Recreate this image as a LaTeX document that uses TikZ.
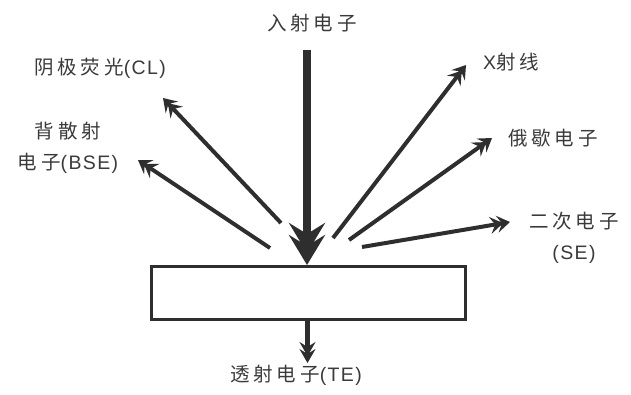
\documentclass[tikz,border=0pt]{standalone}
\usepackage{fontspec}
\setmainfont{Liberation Sans}
\newfontfamily\cjk[LetterSpace=20]{Noto Sans CJK SC}
\newfontfamily\lat[LetterSpace=7]{Liberation Sans}
\usetikzlibrary{arrows.meta}
\definecolor{ink}{HTML}{2E2E2E}
\definecolor{txt}{HTML}{3A3A3A}
\begin{document}
\begin{tikzpicture}[x=1pt,y=-1pt,
  lbl/.style={font=\fontsize{19.5}{31}\selectfont\cjk, text=txt, inner sep=0pt, align=center},
  sbox/.style={draw=ink, line width=3.3pt, minimum width=313.7pt, minimum height=52.7pt, inner sep=0pt},
  ray/.style={draw=ink, line width=4pt,
    -{Stealth[length=13pt,width=17pt,inset=5pt,sep=-6pt]Stealth[length=13pt,width=17pt,inset=5pt]}},
  beam/.style={draw=ink, line width=8pt,
    -{Stealth[length=30pt,width=36pt,inset=11pt,sep=-18pt]Stealth[length=30pt,width=36pt,inset=11pt]}},
  trans/.style={draw=ink, line width=4.5pt,
    -{Stealth[length=14pt,width=16pt,inset=5pt,sep=-7pt]Stealth[length=14pt,width=16pt,inset=5pt]}},
]
\useasboundingbox (0,0) rectangle (631,394);

% sample
\node[sbox] (sample) at (308.5,293) {};

% labels
\node[lbl] (in)  at (312,23)   {入射电子};
\node[lbl] (cl)  at (100,68)   {阴极荧光{\lat(CL)}};
\node[lbl] (bse) at (68,147.5) {背散射\\电子{\lat(BSE)}};
\node[lbl] (xr)  at (511,62)   {{\lat X}射线};
\node[lbl] (au)  at (553,138)  {俄歇电子};
\node[lbl] (se)  at (574,238)  {二次电子\\{\lat(SE)}};
\node[lbl] (te)  at (296,375)  {透射电子{\lat(TE)}};

% connector ends
\coordinate (beamTop) at (307,50);
\coordinate (beamTip) at (307,265);
\coordinate (clS) at (281,223);  \coordinate (clT) at (163,98);
\coordinate (bsS) at (270,248);  \coordinate (bsT) at (138,160);
\coordinate (xrS) at (333,238);  \coordinate (xrT) at (466,65);
\coordinate (auS) at (349,240);  \coordinate (auT) at (492,138);
\coordinate (seS) at (362,247);  \coordinate (seT) at (510,222);
\coordinate (teS) at (307.5,321); \coordinate (teT) at (307.5,363);

% connectors
\draw[beam] (beamTop) -- (beamTip);
\draw[ray] (clS) -- (clT);
\draw[ray] (bsS) -- (bsT);
\draw[ray] (xrS) -- (xrT);
\draw[ray] (auS) -- (auT);
\draw[ray] (seS) -- (seT);
\draw[trans] (teS) -- (teT);
\end{tikzpicture}
\end{document}
